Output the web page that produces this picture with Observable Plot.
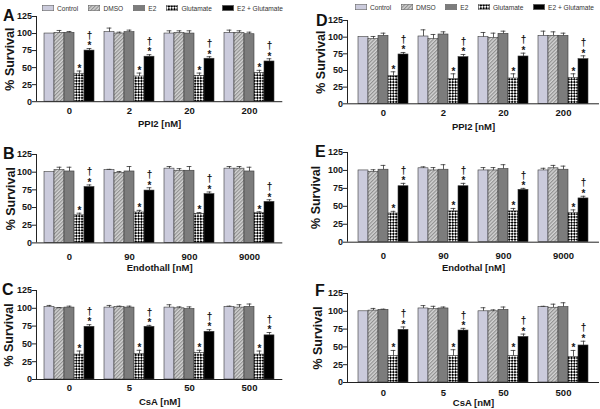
<!DOCTYPE html>
<html><head><meta charset="utf-8">
<script src="https://cdn.jsdelivr.net/npm/d3@7"></script>
<script src="https://cdn.jsdelivr.net/npm/@observablehq/plot@0.6"></script>
<style>
body{margin:0;background:#fff;}
#fig{position:relative;width:600px;height:409px;overflow:hidden;font-family:"Liberation Sans",Arial,Helvetica,sans-serif;background:#fff;}
.panel{position:absolute;width:300px;}
.panel svg{overflow:visible;max-width:none !important;}
.letter{position:absolute;font-weight:bold;font-size:16px;line-height:16px;color:#111;}
.legend{position:absolute;display:flex;justify-content:space-between;align-items:center;font-size:6.6px;color:#333;height:8px;}
.item{display:flex;align-items:center;gap:3px;white-space:nowrap;}
</style></head><body>
<svg width="0" height="0" style="position:absolute">
<defs>
<pattern id="hatch" width="2.6" height="2.6" patternUnits="userSpaceOnUse" patternTransform="rotate(45)">
 <rect width="2.6" height="2.6" fill="#d4d4d4"/><line x1="0.6" y1="0" x2="0.6" y2="2.6" stroke="#8c8c8c" stroke-width="1.1"/>
</pattern>
<pattern id="checker" width="4" height="4" patternUnits="userSpaceOnUse" patternTransform="rotate(45)">
 <rect width="4" height="4" fill="#fff"/><rect width="2" height="2" fill="#000"/><rect x="2" y="2" width="2" height="2" fill="#000"/>
</pattern>
</defs></svg>
<div id="fig"></div>
<script>
const FONT = '"Liberation Sans", Arial, Helvetica, sans-serif';

// ---- data ----
const series = ["Control", "DMSO", "E2", "Glutamate", "E2 + Glutamate"];
const seriesFill = ["#cbcbdc", "url(#hatch)", "#7c7c7c", "url(#checker)", "#000000"];
const starMark = ["", "", "", "*", "*"];
const daggerMark = ["", "", "", "", "\u2020"];

const dosePPI2 = ["0", "2", "20", "200"];
const doseEndothall = ["0", "90", "900", "9000"];
const doseCsA = ["0", "5", "50", "500"];

const meanA = [[100,101,101,41,75],[102,100,102,37,66],[100,101,100,38,63],[101,101,99,42,59]];
const errA  = [[0,3.5,2,4,3],[6,2,3,5,3],[4,3,4,4,3],[4,3,3,4,4]];
const meanB = [[100,103,101,39,79],[103,99,101,43,74],[105,102,102,41,69],[105,105,101,42,58]];
const errB  = [[0,4,6,3,3],[1,2,7,3,4],[3,3,6,2,3],[3,3,6,2,3]];
const meanC = [[102,100,101,35,74],[101,102,101,36,74],[101,100,99,37,67],[102,101,102,35,62]];
const errC  = [[2,1,2,5,3],[3,1,2,5,2],[4,2,3,4,3],[1,4,4,5,4]];
const meanD = [[100,97,102,42,74],[101,97,104,37,70],[100,99,105,38,71],[102,102,102,39,67]];
const errD  = [[0,4,4,6,3],[10,7,4,8,4],[7,7,4,7,5],[7,6,4,6,5]];
const meanE = [[100,98,101,40,78],[103,100,101,43,78],[100,100,102,43,73],[100,103,101,41,61]];
const errE  = [[0,3,6,3,4],[2,4,7,4,4],[4,4,6,4,2],[3,4,5,4,3]];
const meanF = [[100,101,102,37,74],[104,103,104,37,73],[100,100,102,37,64],[106,105,106,36,52]];
const errF  = [[0,3,1,8,4],[4,4,2,9,3],[5,2,4,8,4],[1,5,6,9,6]];

const panelLetter = ["A", "B", "C", "D", "E", "F"];
const panelTitle = ["PPI2 [nM]", "Endothall [nM]", "CsA [nM]", "PPI2 [nM]", "Endothal [nM]", "CsA [nM]"];
const panelDoses = [dosePPI2, doseEndothall, doseCsA, dosePPI2, doseEndothall, doseCsA];
const panelMeans = [meanA, meanB, meanC, meanD, meanE, meanF];
const panelErrs = [errA, errB, errC, errD, errE, errF];
const yTicks = [0, 25, 50, 75, 100, 125];
const yLabel = "% Survival";

// ---- layout (page pixels) ----
const layout = [
  {col: 0,   axisX: 36,  right: 282.3, pad: 0.31,  y125: 15.5,  y0: 100.7, tickC: 110,   titleC: 123,   ylabX: 9,   letX: 3,   letY: 8},
  {col: 0,   axisX: 36,  right: 282.3, pad: 0.31,  y125: 154.3, y0: 242.7, tickC: 256,   titleC: 268,   ylabX: 10,  letX: 3,   letY: 146},
  {col: 0,   axisX: 36,  right: 282.3, pad: 0.31,  y125: 290,   y0: 379,   tickC: 387,   titleC: 401.7, ylabX: 8,   letX: 2,   letY: 282},
  {col: 300, axisX: 347, right: 599,   pad: 0.575, y125: 20,    y0: 103.3, tickC: 112,   titleC: 126,   ylabX: 320, letX: 316, letY: 13},
  {col: 300, axisX: 347, right: 599,   pad: 0.575, y125: 152,   y0: 241.7, tickC: 255,   titleC: 267,   ylabX: 315, letX: 315, letY: 144},
  {col: 300, axisX: 347, right: 599,   pad: 0.575, y125: 292.7, y0: 381.7, tickC: 391.7, titleC: 401.7, ylabX: 317, letX: 315, letY: 283}
];

const fig = document.getElementById("fig");

function addLegend(left, top, width) {
  const d = document.createElement("div");
  d.className = "legend";
  d.style.left = left + "px"; d.style.top = top + "px"; d.style.width = width + "px";
  d.innerHTML = series.map((s, i) =>
    `<span class="item"><svg width="12" height="6"><rect x="0.3" y="0.3" width="11.4" height="5.4" fill="${seriesFill[i]}" stroke="#666" stroke-width="0.6"/></svg><span>${s}</span></span>`
  ).join("");
  fig.appendChild(d);
}
addLegend(42, 4, 241);
addLegend(355, 3, 239);

panelLetter.forEach((letter, p) => {
  const L = layout[p];
  const doses = panelDoses[p];
  const rows = [];
  const domain = [];
  doses.forEach((dose, g) => {
    series.forEach((s, si) => {
      const key = g + "|" + si;
      domain.push(key);
      const mean = panelMeans[p][g][si], err = panelErrs[p][g][si];
      rows.push({key, g, si, series: s, mean, err, top: mean + err});
    });
    if (g < doses.length - 1) domain.push(g + "|gap");
  });
  const mid = doses.map((d, g) => g + "|2");
  const withErr = rows.filter(d => d.err > 0);
  const mt = 10, mb = 34;
  const h = (L.y0 - L.y125) + mt + mb;
  const frameW = L.right - L.axisX;
  const tickFS = 9.5;
  const chart = Plot.plot({
    width: 300, height: h,
    marginTop: mt, marginBottom: mb,
    marginLeft: L.axisX - L.col, marginRight: L.col + 300 - L.right,
    style: {fontFamily: FONT, fontWeight: "bold", fontSize: "9px", background: "transparent", color: "#151515"},
    x: {type: "band", domain, paddingInner: 0, paddingOuter: L.pad, axis: null},
    y: {domain: [0, 125], axis: null},
    color: {domain: series, range: seriesFill},
    marks: [
      Plot.barY(rows, {x: "key", y: "mean", fill: "series", stroke: "#3a3a3a", strokeWidth: 0.6}),
      Plot.ruleX(withErr, {x: "key", y1: "mean", y2: "top", stroke: "#333", strokeWidth: 0.8}),
      Plot.tickY(withErr, {x: "key", y: "top", insetLeft: 2.6, insetRight: 2.6, stroke: "#333", strokeWidth: 0.8}),
      Plot.text(rows, {x: "key", y: "top", text: d => starMark[d.si], fontSize: 10, lineAnchor: "middle", dy: -2.4}),
      Plot.text(rows, {x: "key", y: "top", text: d => daggerMark[d.si], fontSize: 10, lineAnchor: "middle", dy: -13}),
      // axes
      Plot.ruleY([0], {y: d => d, stroke: "#222", strokeWidth: 1}),
      Plot.ruleX([0], {x: null, dx: -frameW / 2, stroke: "#222", strokeWidth: 1}),
      Plot.ruleY(yTicks, {y: d => d, insetLeft: -4, insetRight: frameW, stroke: "#222", strokeWidth: 1}),
      Plot.text(yTicks, {y: d => d, text: d => String(d), frameAnchor: "left", textAnchor: "end", lineAnchor: "middle", dx: -4.5, fontSize: 9}),
      Plot.axisX({ticks: mid, tickFormat: k => doses[+k.split("|")[0]], tickSize: 0, tickPadding: L.tickC - L.y0 - 0.35 * tickFS, fontSize: tickFS, label: null}),
      Plot.text([panelTitle[p]], {frameAnchor: "bottom", text: d => d, dy: L.titleC - L.y0, textAnchor: "middle", lineAnchor: "middle", fontSize: 9.5}),
      Plot.text([yLabel], {frameAnchor: "left", text: d => d, rotate: -90, dx: L.ylabX - L.axisX, textAnchor: "middle", lineAnchor: "middle", fontSize: 12.5})
    ]
  });
  const div = document.createElement("div");
  div.className = "panel";
  div.style.left = L.col + "px";
  div.style.top = (L.y125 - mt) + "px";
  div.appendChild(chart);
  fig.appendChild(div);

  const let_ = document.createElement("div");
  let_.className = "letter";
  let_.style.left = L.letX + "px";
  let_.style.top = L.letY + "px";
  let_.textContent = letter;
  fig.appendChild(let_);
});
</script>
</body></html>
